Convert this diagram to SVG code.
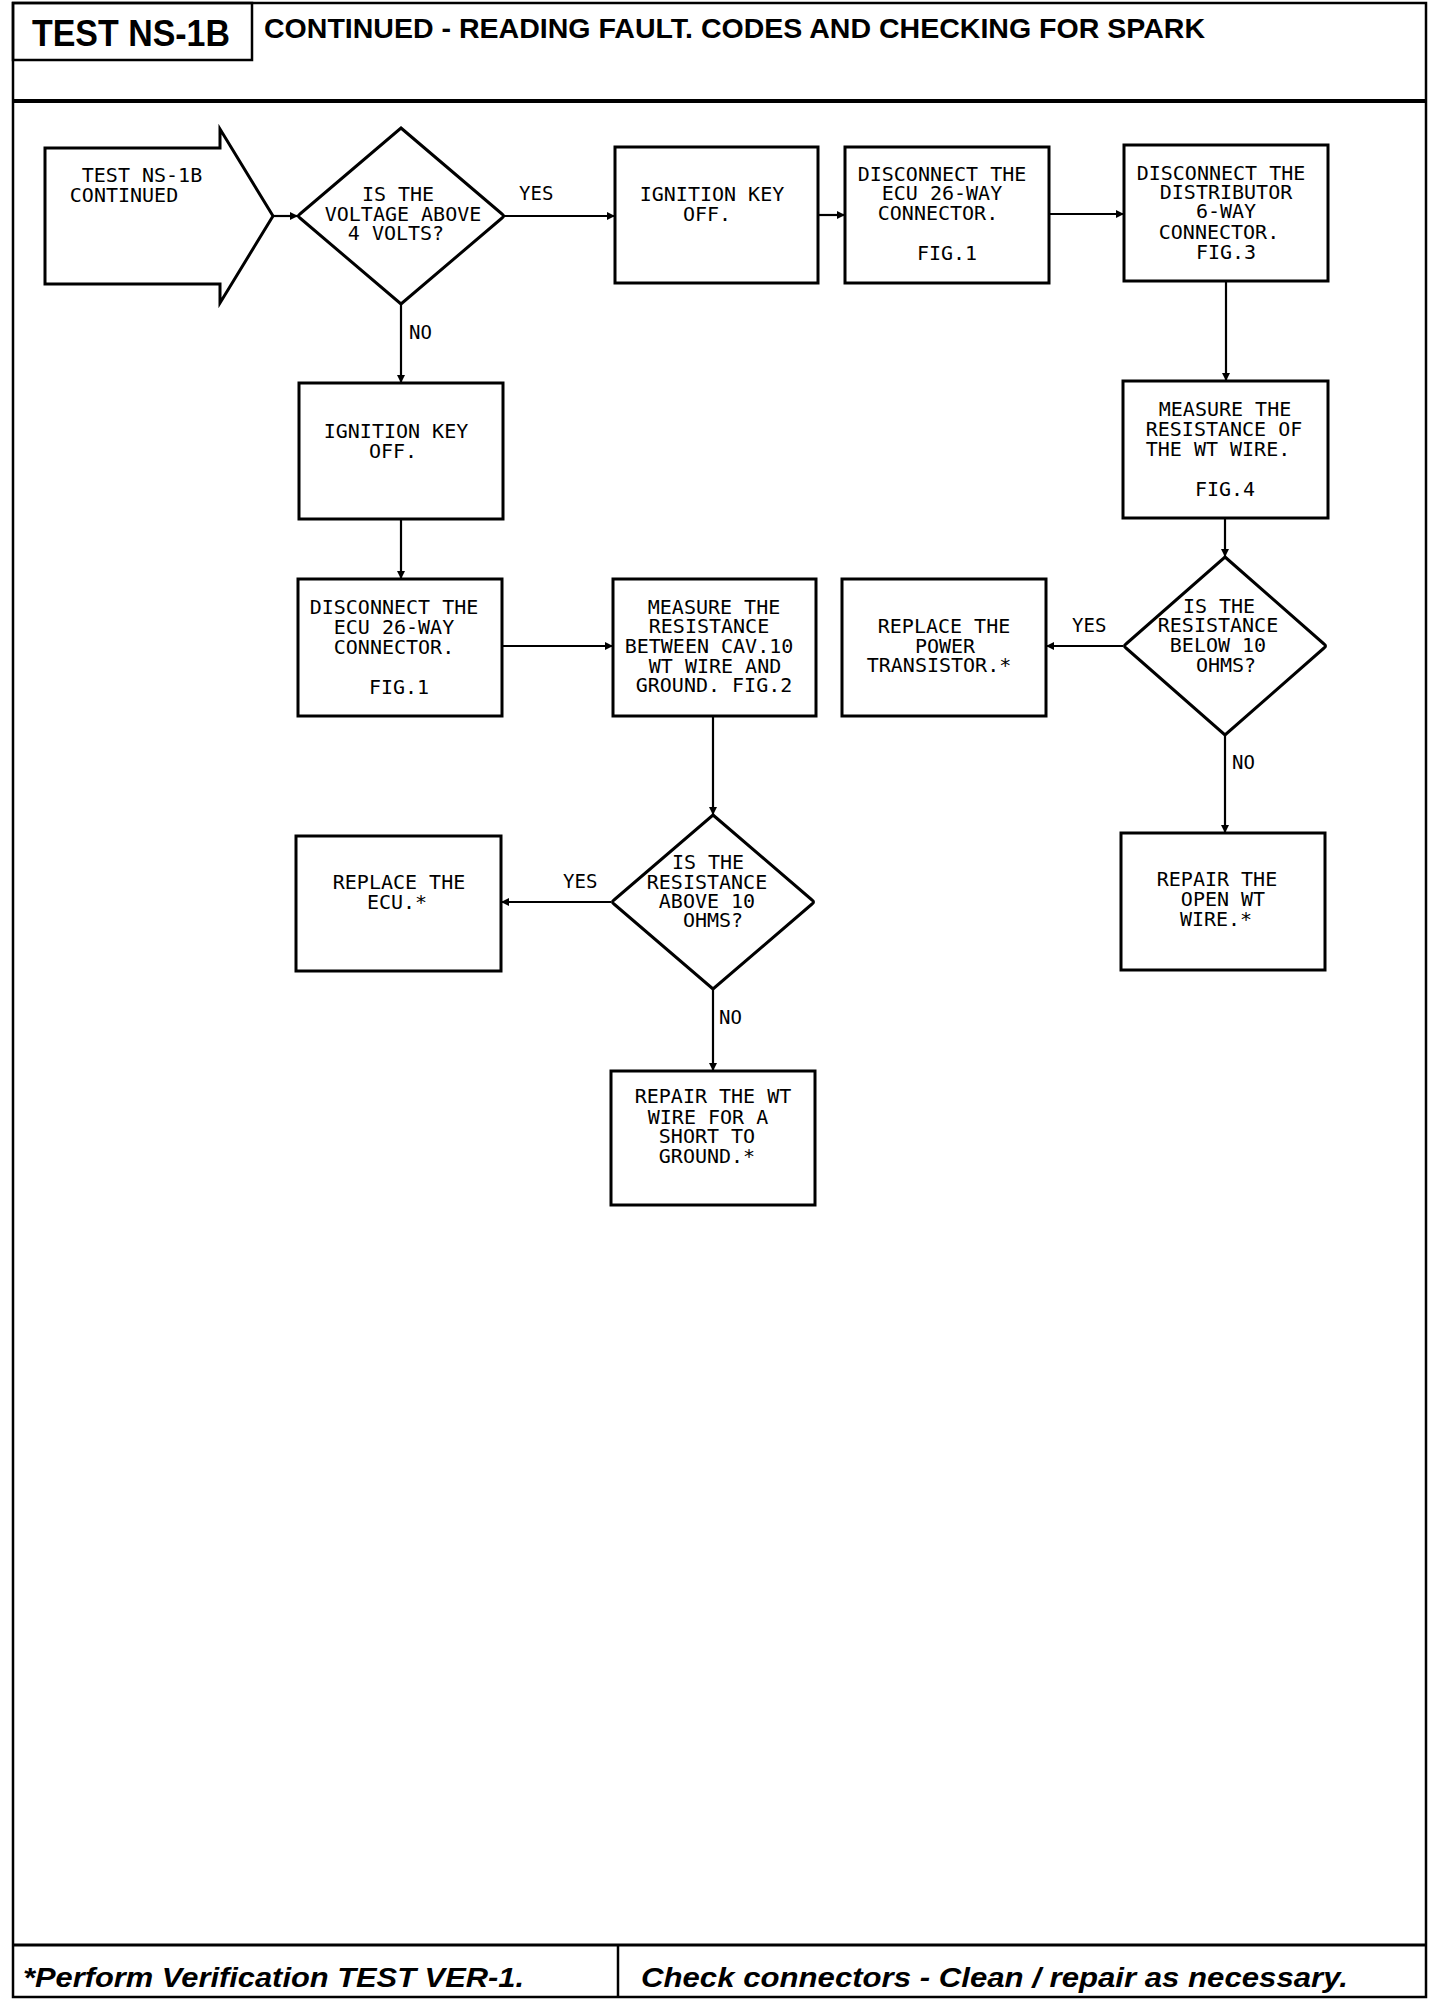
<svg xmlns="http://www.w3.org/2000/svg" width="1440" height="2004" viewBox="0 0 1440 2004">
<defs>
<marker id="arr" viewBox="0 0 10 10" refX="10" refY="5" markerWidth="9" markerHeight="8" markerUnits="userSpaceOnUse" orient="auto">
<path d="M0,0 L10,5 L0,10 Z" fill="#000"/>
</marker>
<style>
.frame{fill:none;stroke:#000;stroke-width:2.5}
.thick{fill:none;stroke:#000;stroke-width:4}
.box{fill:#fff;stroke:#000;stroke-width:3}
.conn{fill:none;stroke:#000;stroke-width:2.2;marker-end:url(#arr)}
.t{font-family:"DejaVu Sans Mono","Liberation Mono",monospace;font-size:20px;fill:#000;text-anchor:middle}
.lbl{font-family:"DejaVu Sans Mono","Liberation Mono",monospace;font-size:19px;fill:#000}
.hd{font-family:"Liberation Sans",Arial,sans-serif;font-weight:bold;fill:#000}
.ft{font-family:"Liberation Sans",Arial,sans-serif;font-weight:bold;font-style:italic;fill:#000;font-size:28px}
</style>
</defs>
<rect width="1440" height="2004" fill="#fff"/>

<g id="frame">
<rect class="frame" x="13" y="3" width="1413" height="1994"/>
<line class="thick" x1="13" y1="101" x2="1426" y2="101"/>
<rect class="frame" x="13" y="3" width="239" height="57"/>
<text class="hd" x="32" y="46" font-size="36" textLength="198" lengthAdjust="spacingAndGlyphs">TEST NS-1B</text>
<text class="hd" x="264" y="38" font-size="28" textLength="941" lengthAdjust="spacingAndGlyphs">CONTINUED -  READING FAULT. CODES AND CHECKING FOR SPARK</text>
<line class="thick" x1="13" y1="1945" x2="1426" y2="1945" style="stroke-width:3"/>
<line class="frame" x1="618" y1="1945" x2="618" y2="1997"/>
<text class="ft" x="23" y="1987" textLength="501" lengthAdjust="spacingAndGlyphs">*Perform Verification TEST VER-1.</text>
<text class="ft" x="641" y="1987" textLength="707" lengthAdjust="spacingAndGlyphs">Check connectors - Clean / repair as necessary.</text>
</g>

<g id="connectors">
<line class="conn" x1="273" y1="216" x2="298" y2="216"/>
<line class="conn" x1="504" y1="216" x2="615" y2="216"/>
<text class="lbl" x="519" y="200">YES</text>
<line class="conn" x1="401" y1="304" x2="401" y2="383"/>
<text class="lbl" x="409" y="339">NO</text>
<line class="conn" x1="818" y1="215" x2="845" y2="215"/>
<line class="conn" x1="1049" y1="214" x2="1124" y2="214"/>
<line class="conn" x1="1226" y1="281" x2="1226" y2="381"/>
<line class="conn" x1="1225" y1="518" x2="1225" y2="557"/>
<line class="conn" x1="1123" y1="646" x2="1046" y2="646"/>
<text class="lbl" x="1072" y="632">YES</text>
<line class="conn" x1="1225" y1="735" x2="1225" y2="833"/>
<text class="lbl" x="1232" y="769">NO</text>
<line class="conn" x1="401" y1="519" x2="401" y2="579"/>
<line class="conn" x1="502" y1="646" x2="613" y2="646"/>
<line class="conn" x1="713" y1="716" x2="713" y2="815"/>
<line class="conn" x1="611" y1="902" x2="501" y2="902"/>
<text class="lbl" x="563" y="888">YES</text>
<line class="conn" x1="713" y1="989" x2="713" y2="1071"/>
<text class="lbl" x="719" y="1024">NO</text>
</g>

<g id="start">
<path class="box" d="M45,148 H220 V129 L273,216 L220,303 V284 H45 Z"/>
<text class="t" x="142" y="182">TEST NS-1B</text>
<text class="t" x="124" y="202">CONTINUED</text>
</g>

<g id="d1">
<path class="box" d="M401,128 L502,214 Q505,216 502,218 L401,304 L300,218 Q297,216 300,214 Z"/>
<text class="t" x="398" y="201">IS THE</text>
<text class="t" x="403" y="221">VOLTAGE ABOVE</text>
<text class="t" x="396" y="240">4 VOLTS?</text>
</g>

<g id="ign1">
<rect class="box" x="615" y="147" width="203" height="136"/>
<text class="t" x="712" y="201">IGNITION KEY</text>
<text class="t" x="707" y="221">OFF.</text>
</g>

<g id="disc1">
<rect class="box" x="845" y="147" width="204" height="136"/>
<text class="t" x="942" y="181">DISCONNECT THE</text>
<text class="t" x="942" y="200">ECU 26-WAY</text>
<text class="t" x="938" y="220">CONNECTOR.</text>
<text class="t" x="947" y="260">FIG.1</text>
</g>

<g id="dist">
<rect class="box" x="1124" y="145" width="204" height="136"/>
<text class="t" x="1221" y="180">DISCONNECT THE</text>
<text class="t" x="1226" y="199">DISTRIBUTOR</text>
<text class="t" x="1226" y="218">6-WAY</text>
<text class="t" x="1219" y="239">CONNECTOR.</text>
<text class="t" x="1226" y="259">FIG.3</text>
</g>

<g id="ign2">
<rect class="box" x="299" y="383" width="204" height="136"/>
<text class="t" x="396" y="438">IGNITION KEY</text>
<text class="t" x="393" y="458">OFF.</text>
</g>

<g id="meas4">
<rect class="box" x="1123" y="381" width="205" height="137"/>
<text class="t" x="1225" y="416">MEASURE THE</text>
<text class="t" x="1224" y="436">RESISTANCE OF</text>
<text class="t" x="1218" y="456">THE WT WIRE.</text>
<text class="t" x="1225" y="496">FIG.4</text>
</g>

<g id="disc2">
<rect class="box" x="298" y="579" width="204" height="137"/>
<text class="t" x="394" y="614">DISCONNECT THE</text>
<text class="t" x="394" y="634">ECU 26-WAY</text>
<text class="t" x="394" y="654">CONNECTOR.</text>
<text class="t" x="399" y="694">FIG.1</text>
</g>

<g id="meas2">
<rect class="box" x="613" y="579" width="203" height="137"/>
<text class="t" x="714" y="614">MEASURE THE</text>
<text class="t" x="709" y="633">RESISTANCE</text>
<text class="t" x="709" y="653">BETWEEN CAV.10</text>
<text class="t" x="715" y="673">WT WIRE AND</text>
<text class="t" x="714" y="692">GROUND. FIG.2</text>
</g>

<g id="reppt">
<rect class="box" x="842" y="579" width="204" height="137"/>
<text class="t" x="944" y="633">REPLACE THE</text>
<text class="t" x="945" y="653">POWER</text>
<text class="t" x="939" y="672">TRANSISTOR.*</text>
</g>

<g id="d2">
<path class="box" d="M1225,557 L1324,644 Q1327,646 1324,648 L1225,735 L1126,648 Q1123,646 1126,644 Z"/>
<text class="t" x="1219" y="613">IS THE</text>
<text class="t" x="1218" y="632">RESISTANCE</text>
<text class="t" x="1218" y="652">BELOW 10</text>
<text class="t" x="1226" y="672">OHMS?</text>
</g>

<g id="repopen">
<rect class="box" x="1121" y="833" width="204" height="137"/>
<text class="t" x="1217" y="886">REPAIR THE</text>
<text class="t" x="1223" y="906">OPEN WT</text>
<text class="t" x="1216" y="926">WIRE.*</text>
</g>

<g id="d3">
<path class="box" d="M713,815 L812,900 Q815,902 812,904 L713,989 L614,904 Q611,902 614,900 Z"/>
<text class="t" x="708" y="869">IS THE</text>
<text class="t" x="707" y="889">RESISTANCE</text>
<text class="t" x="707" y="908">ABOVE 10</text>
<text class="t" x="713" y="927">OHMS?</text>
</g>

<g id="repecu">
<rect class="box" x="296" y="836" width="205" height="135"/>
<text class="t" x="399" y="889">REPLACE THE</text>
<text class="t" x="397" y="909">ECU.*</text>
</g>

<g id="repwt">
<rect class="box" x="611" y="1071" width="204" height="134"/>
<text class="t" x="713" y="1103">REPAIR THE WT</text>
<text class="t" x="708" y="1124">WIRE FOR A</text>
<text class="t" x="707" y="1143">SHORT TO</text>
<text class="t" x="707" y="1163">GROUND.*</text>
</g>
</svg>
